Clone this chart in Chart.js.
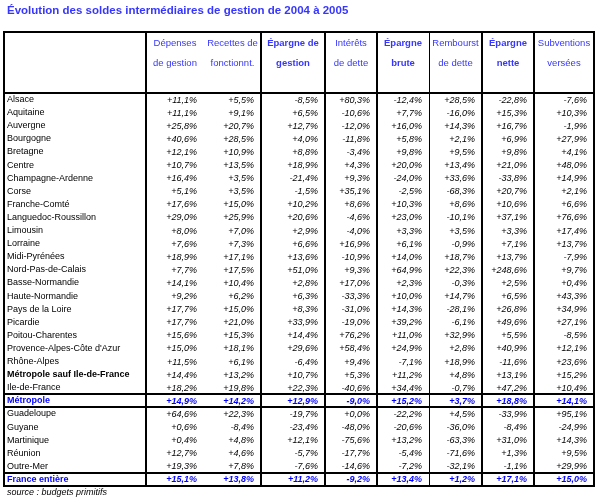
<!DOCTYPE html>
<html><head><meta charset="utf-8">
<style>html,body{margin:0;padding:0;background:#fff;overflow:hidden;}canvas{display:block;}</style>
<script src="https://cdn.jsdelivr.net/npm/chart.js@4.4.1/dist/chart.umd.min.js"></script>
</head><body><canvas id="c" width="597" height="501" style="width:597px;height:501px"></canvas>
<script>
const TITLE = 'Évolution des soldes intermédiaires de gestion de 2004 à 2005';
const SOURCE = 'source : budgets primitifs';
const regions = ['Alsace','Aquitaine','Auvergne','Bourgogne','Bretagne','Centre','Champagne-Ardenne','Corse','Franche-Comté','Languedoc-Roussillon','Limousin','Lorraine','Midi-Pyrénées','Nord-Pas-de-Calais','Basse-Normandie','Haute-Normandie','Pays de la Loire','Picardie','Poitou-Charentes',"Provence-Alpes-Côte d'Azur",'Rhône-Alpes','Métropole sauf Ile-de-France','Ile-de-France','Métropole','Guadeloupe','Guyane','Martinique','Réunion','Outre-Mer','France entière'];
const headers = [['Dépenses','de gestion'],['Recettes de','fonctionnt.'],['Épargne de','gestion'],['Intérêts','de dette'],['Épargne','brute'],['Rembourst','de dette'],['Épargne','nette'],['Subventions','versées']];
const depensesGestion = [11.1,11.1,25.8,40.6,12.1,10.7,16.4,5.1,17.6,29.0,8.0,7.6,18.9,7.7,14.1,9.2,17.7,17.7,15.6,15.0,11.5,14.4,18.2,14.9,64.6,0.6,0.4,12.7,19.3,15.1];
const recettesFonct = [5.5,9.1,20.7,28.5,10.9,13.5,3.5,3.5,15.0,25.9,7.0,7.3,17.1,17.5,10.4,6.2,15.0,21.0,15.3,18.1,6.1,13.2,19.8,14.2,22.3,-8.4,4.8,4.6,7.8,13.8];
const epargneGestion = [-8.5,6.5,12.7,4.0,8.8,18.9,-21.4,-1.5,10.2,20.6,2.9,6.6,13.6,51.0,2.8,6.3,8.3,33.9,14.4,29.6,-6.4,10.7,22.3,12.9,-19.7,-23.4,12.1,-5.7,-7.6,11.2];
const interetsDette = [80.3,-10.6,-12.0,-11.8,-3.4,4.3,9.3,35.1,8.6,-4.6,-4.0,16.9,-10.9,9.3,17.0,-33.3,-31.0,-19.0,76.2,58.4,9.4,5.3,-40.6,-9.0,0.0,-48.0,-75.6,-17.7,-14.6,-9.2];
const epargneBrute = [-12.4,7.7,16.0,5.8,9.8,20.0,-24.0,-2.5,10.3,23.0,3.3,6.1,14.0,64.9,2.3,10.0,14.3,39.2,11.0,24.9,-7.1,11.2,34.4,15.2,-22.2,-20.6,13.2,-5.4,-7.2,13.4];
const remboursDette = [28.5,-16.0,14.3,2.1,9.5,13.4,33.6,-68.3,8.6,-10.1,3.5,-0.9,18.7,22.3,-0.3,14.7,-28.1,-6.1,32.9,2.8,18.9,4.8,-0.7,3.7,4.5,-36.0,-63.3,-71.6,-32.1,1.2];
const epargneNette = [-22.8,15.3,16.7,6.9,9.8,21.0,-33.8,20.7,10.6,37.1,3.3,7.1,13.7,248.6,2.5,6.5,26.8,49.6,5.5,40.9,-11.6,13.1,47.2,18.8,-33.9,-8.4,31.0,1.3,-1.1,17.1];
const subventions = [-7.6,10.3,-1.9,27.9,4.1,48.0,14.9,2.1,6.6,76.6,17.4,13.7,-7.9,9.7,0.4,43.3,34.9,27.1,-8.5,12.1,23.6,15.2,10.4,14.1,95.1,-24.9,14.3,9.5,29.9,15.0];
const series = [depensesGestion,recettesFonct,epargneGestion,interetsDette,epargneBrute,remboursDette,epargneNette,subventions];
const boldHeader = [false,false,true,false,true,false,true,false];
const boldRows = ['Métropole sauf Ile-de-France'];
const blueRows = ['Métropole','France entière'];
const lineAboveRows = ['Métropole','Guadeloupe','France entière'];

// layout / style (not data)
const COL_EDGES = [0,58,115,179,231,283,336,388,448];
const EDGE_WIDTH = [2,0,2,2,2,1,2,2,2];
const FONT = "'Liberation Sans', Arial, sans-serif";
const BLUE = '#3636ff';
const BLUE_ROW = '#0000ff';

const fmt = v => (v >= 0 ? '+' : '') + v.toFixed(1).replace('.', ',') + '%';
const center = j => (COL_EDGES[j] + COL_EDGES[j + 1]) / 2;

const datasets = series.map((vals, j) => ({
  label: headers[j].join(' '),
  data: vals.map((v, i) => ({x: center(j), y: regions[i], v})),
  pointRadius: 0, pointHoverRadius: 0, showLine: false
}));

const tablePlugin = {
  id: 'tablePlugin',
  afterDatasetsDraw(chart) {
    const ctx = chart.ctx, xs = chart.scales.x, ys = chart.scales.y;
    ctx.save();
    ctx.textAlign = 'right';
    ctx.textBaseline = 'middle';
    chart.data.datasets.forEach((ds, j) => {
      const meta = chart.getDatasetMeta(j);
      const right = xs.getPixelForValue(COL_EDGES[j + 1]) - 7;
      meta.data.forEach((el, i) => {
        const blue = blueRows.includes(regions[i]);
        ctx.font = (blue ? 'italic bold ' : 'italic ') + '9px ' + FONT;
        ctx.fillStyle = blue ? BLUE_ROW : '#000';
        ctx.fillText(fmt(ds.data[i].v), right, el.y + 0.5);
      });
    });
    // table lines
    const top = xs.top, bottom = ys.bottom, left = ys.left - 3, rightB = xs.right;
    ctx.strokeStyle = '#000';
    const hline = (y, w) => { ctx.lineWidth = w; ctx.beginPath(); ctx.moveTo(left - 1, y); ctx.lineTo(rightB + 1, y); ctx.stroke(); };
    const vline = (x, w) => { ctx.lineWidth = w; ctx.beginPath(); ctx.moveTo(x, top); ctx.lineTo(x, bottom); ctx.stroke(); };
    hline(Math.round(top), 2);
    hline(Math.round(ys.top), 2);
    hline(Math.round(bottom), 2);
    lineAboveRows.forEach(name => {
      const r = regions.indexOf(name);
      const y = (ys.getPixelForValue(r - 1) + ys.getPixelForValue(r)) / 2;
      hline(Math.round(y), 2);
    });
    vline(Math.round(left), 2);
    COL_EDGES.forEach((e, k) => {
      const w = EDGE_WIDTH[k];
      if (!w) return;
      const x = Math.round(xs.getPixelForValue(e)) + (w % 2 ? 0.5 : 0);
      vline(x, w);
    });
    ctx.restore();
  }
};

new Chart(document.getElementById('c'), {
  type: 'scatter',
  data: {datasets},
  options: {
    responsive: false, maintainAspectRatio: false, animation: false, events: [], devicePixelRatio: 1,
    layout: {padding: {left: 7, right: 3, top: 0, bottom: 0}},
    plugins: {
      legend: {display: false}, tooltip: {enabled: false},
      title: {display: true, text: TITLE, align: 'start', color: BLUE,
        font: {family: FONT, size: 11.5, weight: 'bold', lineHeight: 1.2}, padding: {top: 3.5, bottom: 14.7}},
      subtitle: {display: true, text: SOURCE, position: 'bottom', align: 'start', color: '#000',
        font: {family: FONT, size: 9, style: 'italic', lineHeight: 1.2}, padding: {top: 1, bottom: 3.2}}
    },
    scales: {
      x: {
        type: 'linear', position: 'top', min: COL_EDGES[0], max: COL_EDGES[COL_EDGES.length - 1],
        afterBuildTicks: s => { s.ticks = headers.map((h, j) => ({value: center(j)})); },
        afterFit: s => { s.height = 61; s.paddingLeft = 0; s.paddingRight = 0; },
        grid: {display: false, drawTicks: false}, border: {display: false},
        ticks: {autoSkip: false, maxRotation: 0, minRotation: 0, padding: 20, color: BLUE,
          callback: (v, i) => headers[i],
          font: c => ({family: FONT, size: 9.5, weight: boldHeader[c.index] ? 'bold' : 'normal', lineHeight: '20px'})}
      },
      y: {
        type: 'category', labels: regions, position: 'left', offset: true,
        afterFit: s => { s.width = 139; s.paddingTop = 0; s.paddingBottom = 0; },
        grid: {display: false, drawTicks: false}, border: {display: false},
        ticks: {autoSkip: false, crossAlign: 'far', padding: 0,
          color: c => blueRows.includes(regions[c.index]) ? BLUE_ROW : '#000',
          font: c => ({family: FONT, size: 9, weight: (blueRows.includes(regions[c.index]) || boldRows.includes(regions[c.index])) ? 'bold' : 'normal'})}
      }
    }
  },
  plugins: [tablePlugin]
});
</script></body></html>
